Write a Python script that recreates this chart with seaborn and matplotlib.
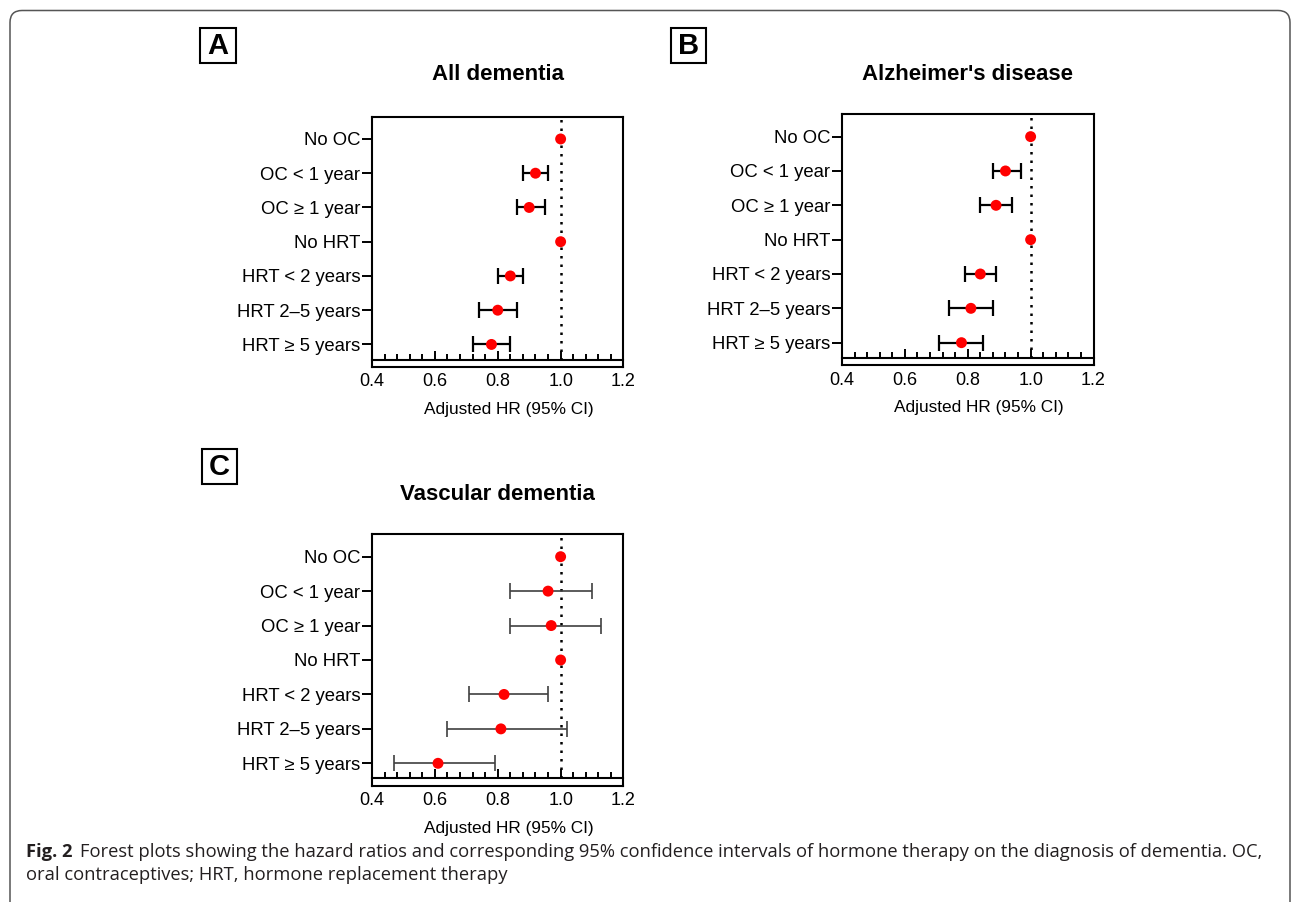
import numpy as np
import pandas as pd
import matplotlib
matplotlib.use("Agg")
import matplotlib.pyplot as plt
import matplotlib.patches as mpatches
import matplotlib.transforms as mtransforms
from matplotlib.lines import Line2D
from matplotlib.ticker import MultipleLocator, FixedLocator, FixedFormatter
import seaborn as sns

# ---------------- data ----------------
categories = ["No OC", "OC < 1 year", "OC \u2265 1 year", "No HRT",
              "HRT < 2 years", "HRT 2\u20135 years", "HRT \u2265 5 years"]

all_hr = [1.00, 0.92, 0.90, 1.00, 0.84, 0.80, 0.78]
all_lo = [np.nan, 0.88, 0.86, np.nan, 0.80, 0.74, 0.72]
all_hi = [np.nan, 0.96, 0.95, np.nan, 0.88, 0.86, 0.84]

ad_hr = [1.00, 0.92, 0.89, 1.00, 0.84, 0.81, 0.78]
ad_lo = [np.nan, 0.88, 0.84, np.nan, 0.79, 0.74, 0.71]
ad_hi = [np.nan, 0.97, 0.94, np.nan, 0.89, 0.88, 0.85]

vd_hr = [1.00, 0.96, 0.97, 1.00, 0.82, 0.81, 0.61]
vd_lo = [np.nan, 0.84, 0.84, np.nan, 0.71, 0.64, 0.47]
vd_hi = [np.nan, 1.10, 1.13, np.nan, 0.96, 1.02, 0.79]

titles = ["All dementia", "Alzheimer's disease", "Vascular dementia"]
panel_letters = ["A", "B", "C"]
x_ticks = [0.4, 0.6, 0.8, 1.0, 1.2]
x_tick_labels = ["0.4", "0.6", "0.8", "1.0", "1.2"]
x_label = "Adjusted HR (95% CI)"
caption_bold = "Fig. 2"
caption_line1 = ("Forest plots showing the hazard ratios and corresponding 95% confidence "
                 "intervals of hormone therapy on the diagnosis of dementia. OC,")
caption_line2 = "oral contraceptives; HRT, hormone replacement therapy"

# ---------------- style ----------------
sns.set_style("white")
plt.rcParams["font.family"] = ["Liberation Sans", "DejaVu Sans"]
plt.rcParams["text.color"] = "black"
plt.rcParams["xtick.color"] = "black"
plt.rcParams["ytick.color"] = "black"
plt.rcParams["axes.labelcolor"] = "black"

W, H = 1293, 902
DPI = 100
fig = plt.figure(figsize=(W / DPI, H / DPI), dpi=DPI)


def rect(l, t, r, b):
    return [l / W, 1 - b / H, (r - l) / W, (b - t) / H]


def fx(x):
    return x / W


def fy(y):
    return 1 - y / H


panels = [
    dict(box=(372, 116.7, 623.5, 366.7), hr=all_hr, lo=all_lo, hi=all_hi,
         ecolor="black", elw=1.6, cap=5.5, letter_box=(200, 28, 236, 63), title_y=75),
    dict(box=(842, 114.3, 1093.5, 365.0), hr=ad_hr, lo=ad_lo, hi=ad_hi,
         ecolor="black", elw=1.6, cap=5.5, letter_box=(671, 28, 706, 63), title_y=75),
    dict(box=(372, 534.3, 623.5, 785.7), hr=vd_hr, lo=vd_lo, hi=vd_hi,
         ecolor="#404040", elw=1.2, cap=6, letter_box=(202, 449, 237, 484), title_y=495),
]

YTOP, YBOT, XAXIS_Y = -0.65, 6.65, 6.44

for i, p in enumerate(panels):
    l, t, r, b = p["box"]
    ax = fig.add_axes(rect(l, t, r, b))
    df = pd.DataFrame({"cat": categories, "hr": p["hr"], "lo": p["lo"], "hi": p["hi"]})
    df["pos"] = np.arange(len(df))
    ci = df.dropna()

    # reference line
    frac = (YBOT - XAXIS_Y) / (YBOT - YTOP)
    ax.axvline(1.0, ymin=frac, ymax=1, color="black", lw=1.8,
               linestyle=(0, (1, 2.4)), zorder=1)

    # confidence intervals
    ax.errorbar(ci["hr"], ci["pos"],
                xerr=[ci["hr"] - ci["lo"], ci["hi"] - ci["hr"]],
                fmt="none", ecolor=p["ecolor"], elinewidth=p["elw"],
                capsize=p["cap"], capthick=p["elw"], zorder=3)

    # point estimates
    sns.scatterplot(data=df, x="hr", y="pos", color="#ff0000", s=62,
                    edgecolor="none", linewidth=0, zorder=5, legend=False, ax=ax)

    ax.set_xlabel("")
    ax.set_ylabel("")
    for s in ax.spines.values():
        s.set_linewidth(1.5)
        s.set_color("black")
        s.set_visible(True)
    ax.spines["bottom"].set_position(("data", XAXIS_Y))
    ax.add_line(Line2D([0, 1], [0, 0], transform=ax.transAxes, color="black",
                       lw=1.5, clip_on=False, solid_capstyle="projecting"))

    ax.set_xlim(0.4, 1.2)
    ax.set_ylim(YBOT, YTOP)
    ax.yaxis.set_major_locator(FixedLocator(list(df["pos"])))
    ax.yaxis.set_major_formatter(FixedFormatter(categories))
    ax.xaxis.set_major_locator(FixedLocator(x_ticks))
    ax.xaxis.set_major_formatter(FixedFormatter(x_tick_labels))
    ax.xaxis.set_minor_locator(MultipleLocator(0.04))

    ax.tick_params(axis="x", which="major", direction="in", length=6.5, width=1.4,
                   pad=10, bottom=True, top=False, colors="black", labelsize=13)
    ax.tick_params(axis="x", which="minor", direction="in", length=4, width=1.4,
                   bottom=True, top=False)
    ax.tick_params(axis="y", which="major", direction="out", length=7, width=1.4,
                   pad=1.5, left=True, right=False, colors="black", labelsize=13.3)

    hgt = b - t
    ax.text(0.5, 1 + (t - p["title_y"]) / hgt, titles[i], transform=ax.transAxes,
            ha="center", va="center", fontsize=16, fontweight="bold")
    ax.text(0.545, -0.17, x_label, transform=ax.transAxes, ha="center", va="center",
            fontsize=12.4)

    # panel letter
    l2, t2, r2, b2 = p["letter_box"]
    fig.add_artist(mpatches.Rectangle((fx(l2), fy(b2)), fx(r2) - fx(l2), fy(t2) - fy(b2),
                                      transform=fig.transFigure, fill=False,
                                      edgecolor="black", lw=1.5))
    fig.text(fx((l2 + r2) / 2), fy((t2 + b2) / 2 + 0.5), panel_letters[i], ha="center",
             va="center", fontsize=21, fontweight="bold")

# outer rounded frame (pixel coordinates)
frame = mpatches.FancyBboxPatch((10, -30), 1280, H - 10.5 + 30,
                                boxstyle="round,pad=0,rounding_size=12",
                                transform=mtransforms.IdentityTransform(),
                                fill=False, edgecolor="#555555", lw=1.1)
fig.add_artist(frame)

# caption
cap_font = ["Open Sans", "DejaVu Sans"]
renderer = fig.canvas.get_renderer()
fs0 = 11.5
t_bold = fig.text(fx(26), fy(852), caption_bold, ha="left", va="center",
                  fontsize=fs0, fontweight="bold", family=cap_font, color="#231f20")
t1 = fig.text(fx(80), fy(852), caption_line1, ha="left", va="center",
              fontsize=fs0, family=cap_font, color="#231f20")
target_right = 1264
for _ in range(3):
    fs = t1.get_fontsize()
    bb = t_bold.get_window_extent(renderer=renderer)
    x_after = bb.x1 + 0.55 * fs
    t1.set_x(x_after / W)
    bb1 = t1.get_window_extent(renderer=renderer)
    new_fs = fs * (target_right - x_after) / bb1.width
    t1.set_fontsize(new_fs)
    t_bold.set_fontsize(new_fs)
fs = t1.get_fontsize()
bb = t_bold.get_window_extent(renderer=renderer)
t1.set_x((bb.x1 + 0.55 * fs) / W)
fig.text(fx(26), fy(875), caption_line2, ha="left", va="center",
         fontsize=fs, family=cap_font, color="#231f20")

fig.savefig("out.png", dpi=DPI, facecolor="white")
